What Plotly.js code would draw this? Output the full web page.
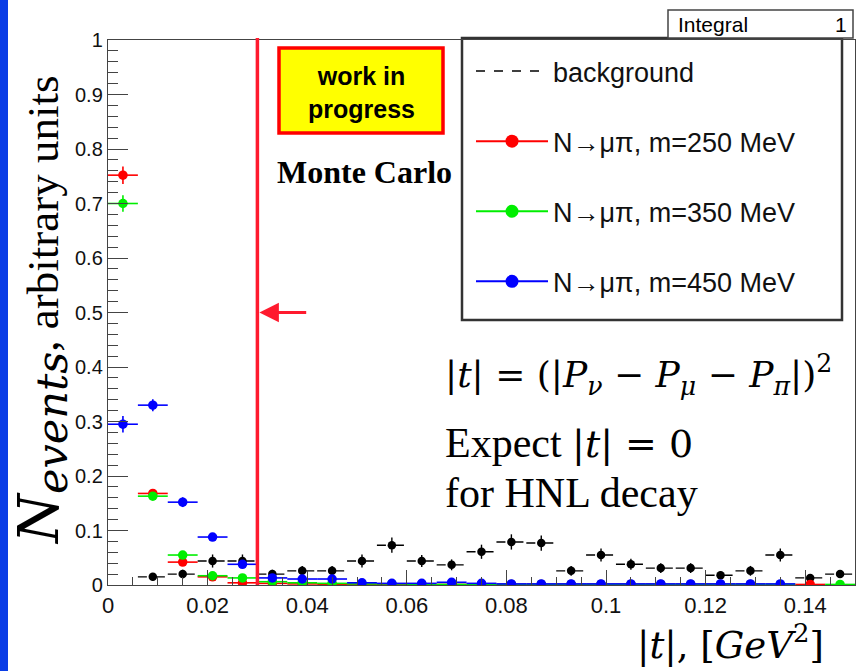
<!DOCTYPE html>
<html>
<head>
<meta charset="utf-8">
<script src="https://cdn.plot.ly/plotly-3.0.1.min.js"></script>
<style>html,body{margin:0;padding:0;background:#fff;}#chart{width:864px;height:671px;}</style>
</head>
<body>
<div id="chart"></div>
<script>
// |t| bin centres (GeV^2), bin width 0.006
const tBinCenters = [0.003,0.009,0.015,0.021,0.027,0.033,0.039,0.045,0.051,0.057,0.063,0.069,0.075,0.081,0.087,0.093,0.099,0.105,0.111,0.117,0.123,0.129,0.135,0.141,0.147];
const binHalfWidth = 0.003;

const background    = [null,0.015,0.020,0.044,0.044,0.020,0.026,0.026,0.044,0.073,0.044,0.037,0.061,0.079,0.077,0.026,0.055,0.038,0.031,0.031,0.018,0.026,0.055,0.013,0.020];
const backgroundErr = [null,0.007,0.008,0.012,0.012,0.008,0.009,0.009,0.012,0.014,0.011,0.010,0.013,0.014,0.014,0.009,0.012,0.010,0.009,0.009,0.007,0.009,0.012,0.006,0.007];

const m250    = [0.752,0.168,0.042,0.015,0.004,0.003,0.002,0.001,0.001,0.001,0.001,0.001,0.001,0.001,0.001,0.001,0.001,0.001,0.001,0.001,0.001,0.001,null,0.001,null];
const m250Err = [0.016,0.006,0.004,0.002,0.001,0.001,0.001,0.001,0.001,0.001,0.001,0.001,0.001,0.001,0.001,0.001,0.001,0.001,0.001,0.001,0.001,0.001,null,0.001,null];
const m350    = [0.700,0.163,0.055,0.017,0.013,0.006,0.004,0.003,0.002,0.002,0.001,0.001,0.001,0.001,0.001,0.001,0.001,0.001,0.001,0.001,0.001,0.001,0.001,null,0.001];
const m350Err = [0.015,0.006,0.004,0.002,0.002,0.001,0.001,0.001,0.001,0.001,0.001,0.001,0.001,0.001,0.001,0.001,0.001,0.001,0.001,0.001,0.001,0.001,0.001,null,0.001];
const m450    = [0.295,0.330,0.152,0.088,0.038,0.013,0.011,0.011,0.004,0.003,0.003,0.005,0.003,0.002,0.002,0.002,0.002,0.002,0.002,0.002,0.002,0.002,0.002,null,null];
const m450Err = [0.015,0.011,0.009,0.006,0.004,0.002,0.002,0.002,0.001,0.001,0.001,0.001,0.001,0.001,0.001,0.001,0.001,0.001,0.001,0.001,0.001,0.001,0.001,null,null];

const seriesNames = ['background','N\u2192\u03bc\u03c0, m=250 MeV','N\u2192\u03bc\u03c0, m=350 MeV','N\u2192\u03bc\u03c0, m=450 MeV'];
const seriesColors = ['#000000','#ff0000','#00ee00','#0000ff'];

const xTickVals = [0,0.02,0.04,0.06,0.08,0.1,0.12,0.14];
const xTickText = ['0','0.02','0.04','0.06','0.08','0.1','0.12','0.14'];
const yTickVals = [0,0.1,0.2,0.3,0.4,0.5,0.6,0.7,0.8,0.9,1];
const yTickText = ['0','0.1','0.2','0.3','0.4','0.5','0.6','0.7','0.8','0.9','1'];

const tCut = 0.03;
const integralValue = '1';

// build dashed bin segments for background
const segX = [], segY = [];
tBinCenters.forEach((c,i)=>{
  if (background[i] === null) return;
  segX.push(c-binHalfWidth, c+binHalfWidth, null);
  segY.push(background[i], background[i], null);
});

const traces = [];
traces.push({x:segX, y:segY, mode:'lines', line:{color:'#000', dash:'dash', width:1.4},
  name:seriesNames[0], legendgroup:'g0', showlegend:true, hoverinfo:'skip'});
traces.push({x:tBinCenters, y:background, mode:'markers', marker:{color:'#000', size:8.5},
  error_y:{type:'data', array:backgroundErr, width:0, thickness:1.4, color:'#000'},
  showlegend:false, legendgroup:'g0'});

const sig = [[m250,m250Err],[m350,m350Err],[m450,m450Err]];
sig.forEach((s,k)=>{
  const col = seriesColors[k+1];
  traces.push({x:tBinCenters, y:s[0], mode:'markers', marker:{color:col, size:9.5},
    error_x:{type:'constant', value:binHalfWidth, width:0, thickness:1.6, color:col},
    error_y:{type:'data', array:s[1], width:0, thickness:1.6, color:col},
    showlegend:false, legendgroup:'g'+(k+1)});
});
sig.forEach((s,k)=>{
  const col = seriesColors[k+1];
  traces.push({x:[null], y:[null], mode:'lines+markers', marker:{color:col, size:13},
    line:{color:col, width:2}, name:seriesNames[k+1], legendgroup:'g'+(k+1), showlegend:true});
});

const L = 108, R = 855, T = 40, B = 585;
const px = p => (p-L)/(R-L);
const py = p => (B-p)/(B-T);

const serif = 'Liberation Serif, Times New Roman, serif';
const mathF = 'DejaVu Serif';
const sans = 'Liberation Sans, Arial, Helvetica, sans-serif';

const layout = {
  width:864, height:671,
  margin:{l:L, r:864-R, t:T, b:671-B},
  paper_bgcolor:'#fff', plot_bgcolor:'#fff',
  showlegend:true,
  legend:{x:px(471), y:py(47), xanchor:'left', yanchor:'top', bgcolor:'rgba(0,0,0,0)',
    borderwidth:0, font:{family:sans, size:27, color:'#111'}, tracegroupgap:32, itemwidth:72,
    traceorder:'grouped'},
  xaxis:{range:[0,0.15], tickvals:xTickVals, ticktext:xTickText, ticks:'inside', ticklen:15,
    tickcolor:'#444', tickwidth:1, showline:true, linecolor:'#444', linewidth:1.2, mirror:true,
    showgrid:false, zeroline:false, tickfont:{family:sans, size:22, color:'#111'},
    minor:{dtick:0.005, ticks:'inside', ticklen:8, tickcolor:'#444', showgrid:false}},
  yaxis:{range:[0,1], tickvals:yTickVals, ticktext:yTickText, ticks:'inside', ticklen:20,
    tickcolor:'#444', tickwidth:1, showline:true, linecolor:'#444', linewidth:1.2, mirror:true,
    showgrid:false, zeroline:false, tickfont:{family:sans, size:20, color:'#111'},
    minor:{dtick:0.02, ticks:'inside', ticklen:10, tickcolor:'#444', showgrid:false}},
  shapes:[
    {type:'rect', xref:'paper', yref:'paper', x0:px(0), x1:px(8), y0:py(671), y1:py(0),
      fillcolor:'#0a3de6', line:{width:0}, layer:'above'},
    {type:'line', xref:'x', yref:'paper', x0:tCut, x1:tCut, y0:0, y1:py(38),
      line:{color:'#ff1a2e', width:3.5}},
    {type:'rect', xref:'paper', yref:'paper', x0:px(462), x1:px(842), y0:py(320), y1:py(38),
      fillcolor:'#ffffff', line:{color:'#333', width:2.5}, layer:'below'},
    {type:'rect', xref:'paper', yref:'paper', x0:px(668), x1:px(853), y0:py(38), y1:py(10),
      fillcolor:'#ffffff', line:{color:'#444', width:1.5}},
    {type:'rect', xref:'paper', yref:'paper', x0:px(279), x1:px(443), y0:py(133), y1:py(48),
      fillcolor:'#ffff00', line:{color:'#ff0000', width:3.5}}
  ],
  annotations:[
    {xref:'paper', yref:'paper', x:px(41), y:py(311), xanchor:'center', yanchor:'middle',
      textangle:-90, showarrow:false, font:{family:serif, size:45, color:'#000'},
      text:'<span style="font-family:DejaVu Serif;font-size:56px"><i>N</i></span><sub><span style="font-family:DejaVu Serif;font-size:43px"><i>events</i></span></sub>, arbitrary units'},
    {xref:'paper', yref:'paper', x:px(826), y:py(642), xanchor:'right', yanchor:'middle',
      showarrow:false, font:{family:mathF, size:37, color:'#000'},
      text:'|<i>t</i>|, [<i>GeV</i><sup>2</sup>]'},
    {xref:'paper', yref:'paper', x:px(443), y:py(375), xanchor:'left', yanchor:'middle',
      showarrow:false, font:{family:mathF, size:36, color:'#000'},
      text:'|<i>t</i>| = (|<i>P</i><sub><i>\u03bd</i></sub> \u2212 <i>P</i><sub><i>\u03bc</i></sub> \u2212 <i>P</i><sub><i>\u03c0</i></sub>|)<sup>2</sup>'},
    {xref:'paper', yref:'paper', x:px(443), y:py(443), xanchor:'left', yanchor:'middle',
      showarrow:false, font:{family:serif, size:42, color:'#000'},
      text:'Expect <span style="font-family:DejaVu Serif;font-size:38px">|<i>t</i>| = 0</span>'},
    {xref:'paper', yref:'paper', x:px(443), y:py(493), xanchor:'left', yanchor:'middle',
      showarrow:false, font:{family:serif, size:42, color:'#000'},
      text:'for HNL decay'},
    {xref:'paper', yref:'paper', x:px(361), y:py(92), xanchor:'center', yanchor:'middle',
      showarrow:false, font:{family:sans, size:25, color:'#000'},
      text:'<b>work in<br>progress</b>'},
    {xref:'paper', yref:'paper', x:px(364), y:py(172), xanchor:'center', yanchor:'middle',
      showarrow:false, font:{family:serif, size:32, color:'#000'},
      text:'<b>Monte Carlo</b>'},
    {xref:'paper', yref:'paper', x:px(676), y:py(24), xanchor:'left', yanchor:'middle',
      showarrow:false, font:{family:sans, size:21, color:'#000'}, text:'Integral'},
    {xref:'paper', yref:'paper', x:px(849), y:py(24), xanchor:'right', yanchor:'middle',
      showarrow:false, font:{family:sans, size:21, color:'#000'}, text:integralValue},
    {xref:'x', yref:'y', x:tCut+0.0004, y:0.5, axref:'x', ayref:'y', ax:tCut+0.0101, ay:0.5,
      showarrow:true, arrowhead:2, arrowsize:1.3, arrowwidth:3, arrowcolor:'#ff1a2e', text:''}
  ]
};

Plotly.newPlot('chart', traces, layout, {staticPlot:true, displayModeBar:false});
</script>
</body>
</html>
